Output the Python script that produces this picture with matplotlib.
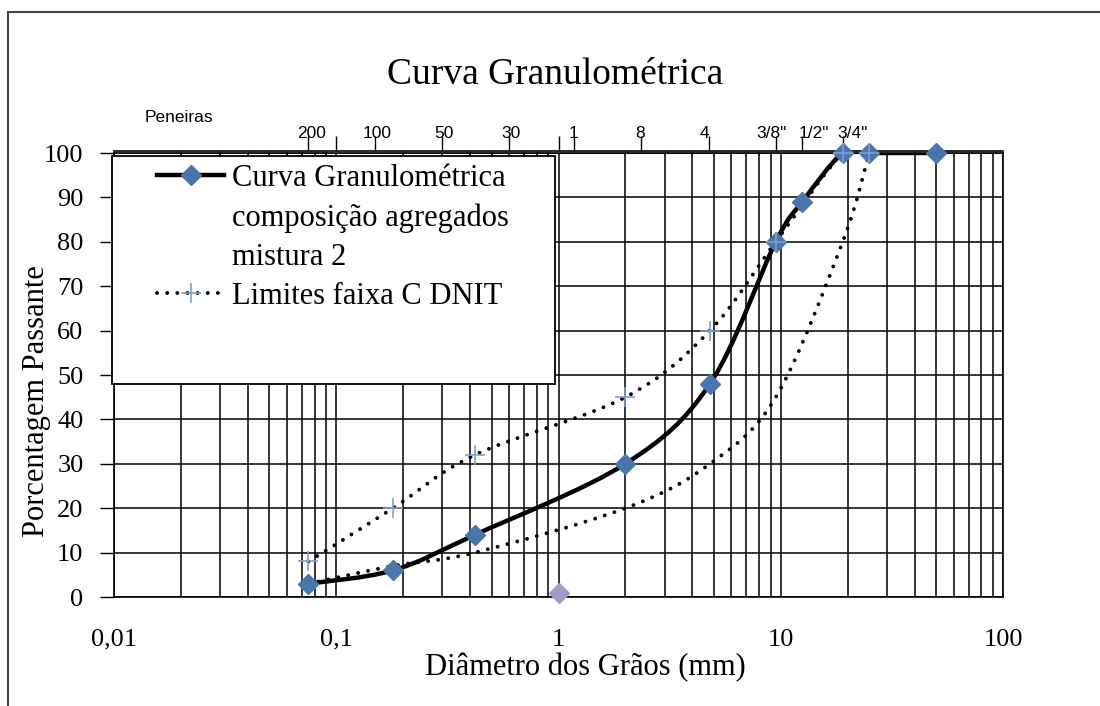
import numpy as np
import matplotlib
matplotlib.use("Agg")
import matplotlib.pyplot as plt
import matplotlib.transforms as mtransforms
from matplotlib.path import Path
from matplotlib.patches import PathPatch, Rectangle
from matplotlib.lines import Line2D
from matplotlib.ticker import LogLocator, NullFormatter

plt.rcParams["font.family"] = ["Liberation Serif", "DejaVu Serif"]

# curva granulometrica da mistura 2
diametro = [0.075, 0.18, 0.42, 2.0, 4.8, 9.5, 12.5, 19, 25, 50]
passante = [3, 6, 14, 30, 48, 80, 89, 100, 100, 100]

# limites da faixa C
lim_x = [0.075, 0.18, 0.42, 2.0, 4.8, 9.5, 19, 25]
lim_sup = [8, 20, 32, 45, 60, 80, 100, 100]
lim_inf = [3, 7, 10, 20, 30, 45, 80, 100]

# ponto solto
avulso_x = [1.0]
avulso_y = [1]

peneiras_mm = [0.075, 0.1, 0.15, 0.3, 0.6, 1.0, 1.18, 2.36, 4.75, 9.5, 12.5, 19]
peneiras_lbl = ["200", "", "100", "50", "30", "", "1", "8", "4", '3/8"', '1/2"', '3/4"']
# deslocamento horizontal dos rotulos (pt), como o Excel afasta os que se encostam
peneiras_dx = [2, 0, 1, 1, 1, 0, -1, -1, -3, -3, 8, 7]

x_ticks = [0.01, 0.1, 1, 10, 100]
x_lbl = ["0,01", "0,1", "1", "10", "100"]

AZUL = "#4A76AE"
AZUL_CLARO = "#7E9FD3"
LILAS = "#A89AC8"


def smooth_path(xs, ys):
    # bezier pelos pontos (estilo "linha suavizada"), no espaco log x
    pts = np.column_stack([np.log10(xs), np.asarray(ys, float)])
    n = len(pts)
    verts = [pts[0]]
    codes = [Path.MOVETO]
    for i in range(n - 1):
        p0 = pts[i - 1] if i > 0 else pts[i]
        p1, p2 = pts[i], pts[i + 1]
        p3 = pts[i + 2] if i + 2 < n else pts[i + 1]
        verts += [p1 + (p2 - p0) / 6, p2 - (p3 - p1) / 6, p2]
        codes += [Path.CURVE4] * 3
    v = np.array(verts)
    v[:, 0] = 10 ** v[:, 0]
    return Path(v, codes)


fig = plt.figure(figsize=(11, 7.06), dpi=100)
fig.patches.append(Rectangle((8 / 1100, -0.1), 1.2, 1.1 - 12 / 706, transform=fig.transFigure,
                             fill=False, edgecolor="#444444", lw=1.5))

ax = fig.add_axes([114 / 1100, 109 / 706, 889 / 1100, 444 / 706])
ax.set_xscale("log")
ax.set_xlim(0.01, 100)
ax.set_ylim(0, 100)
ax.set_xticks(x_ticks, x_lbl)
ax.xaxis.set_minor_locator(LogLocator(10, subs=range(2, 10)))
ax.xaxis.set_minor_formatter(NullFormatter())
ax.set_yticks(range(0, 101, 10))
ax.grid(True, which="both", axis="x", color="k", lw=1.1)
ax.grid(True, which="major", axis="y", color="k", lw=1.1)
ax.set_axisbelow(True)
ax.tick_params(axis="x", which="both", length=0, pad=23, labelsize=19)
ax.tick_params(axis="y", length=10, width=1, pad=12, labelsize=19)
for s in ax.spines.values():
    s.set_linewidth(1.2)

inf = PathPatch(smooth_path(lim_x, lim_inf), fill=False, color="k", lw=2.8,
                ls=(0, (0.01, 2.6)), capstyle="round", zorder=3)
sup = PathPatch(smooth_path(lim_x, lim_sup), fill=False, color="k", lw=2.8,
                ls=(0, (0.01, 2.6)), capstyle="round", zorder=3)
ax.add_patch(inf)
ax.add_patch(sup)
ax.add_patch(PathPatch(smooth_path(diametro, passante), fill=False, color="k", lw=3.2, zorder=4))
ax.plot(diametro, passante, ls="none", marker="D", ms=10, mfc=AZUL, mec=AZUL, zorder=5, clip_on=False)
ax.plot(lim_x, lim_sup, ls="none", marker="+", ms=14, mew=1.2, color=AZUL_CLARO, zorder=6, clip_on=False)
ax.plot(avulso_x, avulso_y, ls="none", marker="D", ms=10, mfc=LILAS, mec=LILAS, zorder=5, clip_on=False)

# eixo de peneiras no topo
sec = ax.secondary_xaxis(1 + 2 / 444)
sec.set_xticks(peneiras_mm, [""] * len(peneiras_mm))
sec.xaxis.set_minor_locator(LogLocator(10, subs=range(2, 10)))
sec.xaxis.set_minor_formatter(NullFormatter())
sec.tick_params(which="major", length=11, width=1)
sec.tick_params(which="minor", length=3, direction="in")
sec.spines["top"].set_linewidth(1.2)
topo = mtransforms.blended_transform_factory(ax.transData, ax.transAxes)
for xm, lbl, dx in zip(peneiras_mm, peneiras_lbl, peneiras_dx):
    if lbl:
        tr = topo + mtransforms.ScaledTranslation(dx / 72, 0, fig.dpi_scale_trans)
        ax.text(xm, 1 + 19 / 444, lbl, transform=tr, ha="center", va="center",
                fontsize=12.5, family="Liberation Sans", clip_on=False)

# caixa da legenda
ax.add_patch(Rectangle((-2 / 889, (597 - 384) / 444), (555 - 112) / 889, (384 - 156) / 444,
                       transform=ax.transAxes, facecolor="white", edgecolor="k", lw=1.3,
                       zorder=7, clip_on=False))
h1 = Line2D([], [], color="k", lw=3.2, marker="D", ms=10, mfc=AZUL, mec=AZUL)
h2 = Line2D([], [], color="k", lw=2.8, ls=(0, (0.01, 2.6)), dash_capstyle="round",
            marker="+", ms=14, mew=1.2, mec=AZUL_CLARO)
vazio = Line2D([], [], lw=0, alpha=0)
leg = ax.legend([h1, vazio, vazio, h2],
                ["Curva Granulométrica", "composição agregados", "mistura 2", "Limites faixa C DNIT"],
                loc="upper left", bbox_to_anchor=((157 - 114) / 889, (597 - 164) / 444),
                frameon=False, fontsize=22, handlelength=2.2, handletextpad=0.25,
                labelspacing=0.33, borderpad=0, borderaxespad=0)
leg.set_zorder(8)

fig.text(555 / 1100, 1 - 75 / 706, "Curva Granulométrica", ha="center", va="center", fontsize=27)
fig.text(145 / 1100, 1 - 118 / 706, "Peneiras", ha="left", va="center", fontsize=12.5,
         family="Liberation Sans")
fig.text(37 / 1100, 1 - 401 / 706, "Porcentagem Passante", ha="center", va="center",
         rotation=90, fontsize=22)
fig.text(585 / 1100, 1 - 668 / 706, "Diâmetro dos Grãos (mm)", ha="center", va="center", fontsize=22)

fig.savefig("out.png", dpi=100)
